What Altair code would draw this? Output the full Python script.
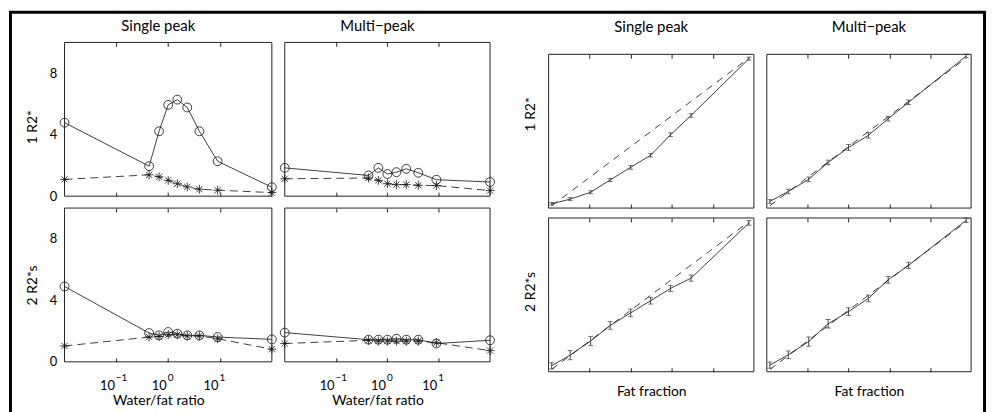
import altair as alt
import pandas as pd

FONT = "Lato"
INK = "#111111"

# ---- left panels: water/fat ratio (log x) ----
wf = [0.01, 0.4286, 0.6667, 1.0, 1.5, 2.333, 4.0, 9.0, 100.0]
sp_r2_circ = [4.78, 1.95, 4.22, 5.94, 6.28, 5.77, 4.22, 2.27, 0.58]
sp_r2_star = [1.09, 1.39, 1.26, 1.03, 0.81, 0.60, 0.45, 0.39, 0.23]
mp_r2_circ = [1.84, 1.35, 1.84, 1.44, 1.56, 1.78, 1.52, 1.07, 0.92]
mp_r2_star = [1.13, 1.18, 1.03, 0.81, 0.75, 0.75, 0.71, 0.69, 0.36]
sp_r2s_circ = [4.90, 1.87, 1.72, 1.94, 1.83, 1.72, 1.72, 1.61, 1.46]
sp_r2s_star = [1.03, 1.61, 1.65, 1.76, 1.76, 1.68, 1.68, 1.50, 0.82]
mp_r2s_circ = [1.90, 1.44, 1.44, 1.44, 1.50, 1.44, 1.44, 1.19, 1.40]
mp_r2s_star = [1.19, 1.40, 1.35, 1.35, 1.35, 1.35, 1.35, 1.24, 0.73]
log_ticks = [0.1, 1, 10]
y_ticks = [0, 4, 8]

# ---- right panels: fat fraction ----
ff = [0.015, 0.105, 0.205, 0.30, 0.40, 0.497, 0.594, 0.694, 0.976]
sp_ff_r2 = [0.028, 0.058, 0.103, 0.183, 0.265, 0.344, 0.477, 0.602, 0.972]
mp_ff_r2 = [0.043, 0.108, 0.187, 0.297, 0.394, 0.473, 0.581, 0.688, 0.989]
sp_ff_r2s = [0.039, 0.108, 0.200, 0.301, 0.383, 0.462, 0.542, 0.609, 0.968]
mp_ff_r2s = [0.043, 0.110, 0.196, 0.312, 0.391, 0.477, 0.598, 0.692, 0.985]
sp_ff_r2_err = [0.008, 0.010, 0.010, 0.010, 0.012, 0.012, 0.012, 0.012, 0.010]
mp_ff_r2_err = [0.012, 0.015, 0.015, 0.015, 0.020, 0.018, 0.015, 0.015, 0.012]
sp_ff_r2s_err = [0.020, 0.030, 0.030, 0.025, 0.025, 0.022, 0.020, 0.020, 0.015]
mp_ff_r2s_err = [0.020, 0.025, 0.030, 0.028, 0.025, 0.022, 0.022, 0.020, 0.015]
ff_ticks = [0.2, 0.4, 0.6, 0.8]

STAR = "M-1,0L1,0M0,-1L0,1M-0.7,-0.7L0.7,0.7M-0.7,0.7L0.7,-0.7"
PANEL_H = 155


def axis(**kw):
    base = dict(grid=False, domain=False)
    base.update(kw)
    return alt.Axis(**base)


def frame_layer(xmin, xmax, ymin, ymax, xsc, ysc):
    return alt.Chart(pd.DataFrame({"a": [0]})).mark_rect(
        fill="transparent", stroke="#222", strokeWidth=1).encode(
        x=alt.XDatum(xmin, type="quantitative", scale=xsc, axis=None),
        x2=alt.X2Datum(xmax),
        y=alt.YDatum(ymin, type="quantitative", scale=ysc, axis=None),
        y2=alt.Y2Datum(ymax))


def left_panel(circ, star, w, pad_top=0, title=None, ytitle=None, ytitle_y=None,
               xlabels=False, outer=False):
    df = pd.DataFrame({"x": wf, "c": circ, "s": star})
    cell_h = PANEL_H + pad_top
    unit = 10 / PANEL_H
    xsc = alt.Scale(type="log", domain=[0.01, 100], nice=False)
    # panel sits at the top of the cell; extend the domain downward for the extra room
    ysc = alt.Scale(domain=[-pad_top * unit, 10], nice=False)
    bx = dict(orient="bottom", values=log_ticks, offset=-4 - pad_top, tickSize=4, labels=xlabels)
    if xlabels:
        bx.update(labelExpr="'10'", labelAlign="right", labelOffset=-2, labelPadding=18,
                  labelFontSize=13, title="Water/fat ratio", titlePadding=1,
                  titleX=w / 2 - 10)
    else:
        bx["title"] = None
    ly = dict(orient="left", values=y_ticks, offset=-4, tickSize=4, tickOpacity=0,
              labelPadding=8, labelFontSize=13)
    if ytitle:
        ly.update(title=ytitle, titlePadding=10)
        if ytitle_y is not None:
            ly["titleY"] = ytitle_y
    else:
        ly.update(title=None, labels=False)
    tx = dict(orient="top", values=log_ticks, offset=-4, tickSize=4, labels=False, title=None)

    base = alt.Chart(df)
    solid = base.mark_line(color=INK, strokeWidth=0.8).encode(
        x=alt.X("x:Q", scale=xsc, axis=axis(**bx)),
        y=alt.Y("c:Q", scale=ysc, axis=axis(**ly)))
    dashed = base.mark_line(color=INK, strokeWidth=0.8, strokeDash=[8, 5]).encode(
        x=alt.X("x:Q", scale=xsc, axis=axis(**tx)),
        y=alt.Y("s:Q", scale=ysc, axis=None))
    if xlabels:
        ex = dict(orient="bottom", values=log_ticks, ticks=False, labelPadding=11,
                  labelExpr="datum.value < 0.5 ? '−1' : (datum.value < 5 ? '0' : '1')",
                  labelAlign="left", labelOffset=-1, labelFontSize=10, title=None)
        circ_x = alt.X("x:Q", scale=xsc, axis=axis(**ex))
    else:
        circ_x = alt.X("x:Q", scale=xsc, axis=None)
    circles = base.mark_point(shape="circle", size=80, filled=False, color=INK,
                              strokeWidth=0.8, opacity=1).encode(
        x=circ_x, y=alt.Y("c:Q", scale=ysc, axis=None))
    stars = base.mark_point(shape=STAR, size=80, filled=False, color=INK,
                            strokeWidth=0.8, opacity=1).encode(
        x=alt.X("x:Q", scale=xsc, axis=None), y=alt.Y("s:Q", scale=ysc, axis=None))
    layers = [frame_layer(0.01, 100, 0, 10, xsc, ysc), solid, dashed, circles, stars]
    if outer:
        # decorative figure border (this cell's origin is at page x=64, y=207)
        fr = alt.Chart(pd.DataFrame({"a": [0]})).mark_rect(
            fill="transparent", stroke="black", strokeWidth=3).encode(
            x=alt.value(-54.5), x2=alt.value(927.5), y=alt.value(-197.5), y2=alt.value(215))
        layers.append(fr)
    ch = alt.layer(*layers).resolve_axis(x="independent", y="independent").properties(
        width=w, height=cell_h)
    if title:
        ch = ch.properties(title=alt.TitleParams(title, dx=-10, offset=8))
    return ch


def right_panel(vals, err, w, pad_top=0, title=None, ytitle=None, ytitle_y=None, xtitle=None):
    lo = [v - e for v, e in zip(vals, err)]
    hi = [v + e for v, e in zip(vals, err)]
    df = pd.DataFrame({"x": ff, "y": vals, "lo": lo, "hi": hi})
    cell_h = PANEL_H + pad_top
    xsc = alt.Scale(domain=[0, 1], nice=False)
    # panel sits at the bottom of the cell; extend the domain upward for the extra room
    ysc = alt.Scale(domain=[0, 1 + pad_top / PANEL_H], nice=False)
    bx = dict(orient="bottom", values=ff_ticks, offset=-4, tickSize=4, labels=False)
    if xtitle:
        bx.update(title=xtitle, titlePadding=12)
    else:
        bx["title"] = None
    ly = dict(orient="left", ticks=False, labels=False, title=ytitle, titlePadding=11)
    if ytitle_y is not None:
        ly["titleY"] = ytitle_y
    tx = dict(orient="top", values=ff_ticks, offset=-4 - pad_top, tickSize=4, labels=False,
              title=None)
    base = alt.Chart(df)
    solid = base.mark_line(color=INK, strokeWidth=0.8).encode(
        x=alt.X("x:Q", scale=xsc, axis=axis(**bx)),
        y=alt.Y("y:Q", scale=ysc, axis=axis(**ly)))
    dashed = base.mark_line(color=INK, strokeWidth=0.8, strokeDash=[7, 6]).encode(
        x=alt.X("x:Q", scale=xsc, axis=axis(**tx)),
        y=alt.Y("x:Q", scale=ysc, axis=None))
    bars = base.mark_rule(color="#333", strokeWidth=0.9).encode(
        x=alt.X("x:Q", scale=xsc, axis=None),
        y=alt.Y("lo:Q", scale=ysc, axis=None), y2="hi:Q")
    cap_lo = base.mark_tick(orient="horizontal", size=5, thickness=0.9, color="#333").encode(
        x=alt.X("x:Q", scale=xsc, axis=None), y=alt.Y("lo:Q", scale=ysc, axis=None))
    cap_hi = base.mark_tick(orient="horizontal", size=5, thickness=0.9, color="#333").encode(
        x=alt.X("x:Q", scale=xsc, axis=None), y=alt.Y("hi:Q", scale=ysc, axis=None))
    ch = alt.layer(frame_layer(0, 1, 0, 1, xsc, ysc), solid, dashed, bars, cap_lo, cap_hi
                   ).resolve_axis(x="independent", y="independent").properties(
        width=w, height=cell_h)
    if title:
        ch = ch.properties(title=alt.TitleParams(title, offset=8))
    return ch


def spacer():
    return alt.Chart(pd.DataFrame({"a": [0]})).mark_text().encode(
        text=alt.value("")).properties(width=33, height=1)


p11 = left_panel(sp_r2_circ, sp_r2_star, 209, pad_top=12, title="Single peak",
                 ytitle="1 R2*", ytitle_y=85)
p12 = left_panel(mp_r2_circ, mp_r2_star, 207, pad_top=12, title="Multi−peak")
p21 = left_panel(sp_r2s_circ, sp_r2s_star, 209, ytitle="2 R2*s", xlabels=True, outer=True)
p22 = left_panel(mp_r2s_circ, mp_r2s_star, 207, xlabels=True)

q11 = right_panel(sp_ff_r2, sp_ff_r2_err, 207, pad_top=12, title="Single peak",
                  ytitle="1 R2*", ytitle_y=72)
q12 = right_panel(mp_ff_r2, mp_ff_r2_err, 206, pad_top=12, title="Multi−peak")
q21 = right_panel(sp_ff_r2s, sp_ff_r2s_err, 207, pad_top=10, ytitle="2 R2*s",
                  ytitle_y=84, xtitle="Fat fraction")
q22 = right_panel(mp_ff_r2s, mp_ff_r2s_err, 206, pad_top=10, xtitle="Fat fraction")

chart = alt.concat(
    p11, p12, spacer(), q11, q12,
    p21, p22, spacer(), q21, q22,
    columns=5, spacing={"row": 0, "column": 13}, bounds="flush"
).properties(
    padding=0, background="white"
).configure_view(stroke="transparent").configure_axis(
    labelFont=FONT, titleFont=FONT, labelFontSize=13, titleFontSize=14,
    titleFontWeight="normal", labelColor="black", titleColor="black",
    tickColor="#222", tickWidth=1
).configure_title(font=FONT, fontSize=15, fontWeight="normal", color="black")

chart.save("out.html", embed_options={"renderer": "svg", "actions": False})
